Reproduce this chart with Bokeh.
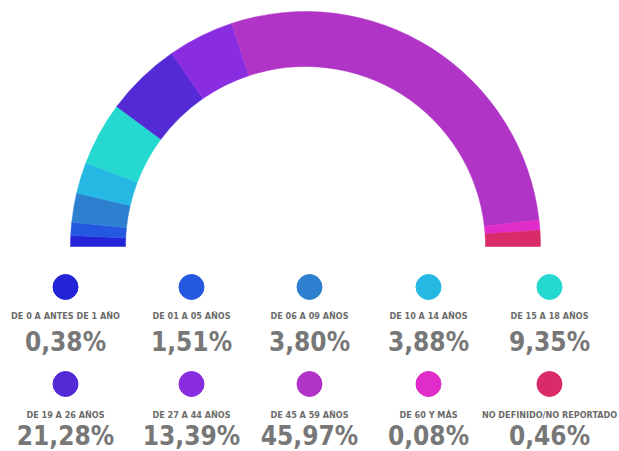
import math
from bokeh.plotting import figure
from bokeh.models import ColumnDataSource, Range1d
from bokeh.core.properties import value
from bokeh.embed import file_html
from bokeh.resources import INLINE

categories = ["DE 0 A ANTES DE 1 AÑO", "DE 01 A 05 AÑOS", "DE 06 A 09 AÑOS",
              "DE 10 A 14 AÑOS", "DE 15 A 18 AÑOS", "DE 19 A 26 AÑOS",
              "DE 27 A 44 AÑOS", "DE 45 A 59 AÑOS", "DE 60 Y MÁS",
              "NO DEFINIDO/NO REPORTADO"]
pct_labels = ["0,38%", "1,51%", "3,80%", "3,88%", "9,35%",
              "21,28%", "13,39%", "45,97%", "0,08%", "0,46%"]
# share of the half ring taken by each segment, as drawn (percent)
arc_share = [1.5, 1.8, 4.0, 4.3, 8.7, 10.4, 9.1, 56.6, 1.4, 2.2]
colors = ["#2323d8", "#2458e0", "#2d80cf", "#25b8e3", "#26d9d0",
          "#5429d6", "#8a2de0", "#b035c6", "#e02cc8", "#d92b6a"]

W, H = 619, 451
p = figure(width=W, height=H, output_backend="svg", toolbar_location=None,
           x_range=Range1d(0, W), y_range=Range1d(0, H),
           x_axis_type=None, y_axis_type=None, min_border=0)
p.grid.visible = False
p.outline_line_color = None

total = sum(arc_share)
starts, ends = [], []
cum = 0.0
for s in arc_share:
    a0 = math.pi - cum / total * math.pi
    cum += s
    a1 = math.pi - cum / total * math.pi
    starts.append(a1)
    ends.append(a0)

src = ColumnDataSource(dict(start=starts, end=ends, color=colors))
cx, cy = 305, H - 246
p.annular_wedge(x=cx, y=cy, inner_radius=180, outer_radius=235,
                start_angle="start", end_angle="end", direction="anticlock",
                color="color", line_color="color", line_width=0.5, source=src)

col_x = [65, 191, 309, 428, 549]
row_circle_y = [H - 286.5, H - 383.5]
row_label_y = [H - 315, H - 414]
row_pct_y = [H - 341, H - 435]

lx, ly, ty, py = [], [], [], []
for i in range(len(categories)):
    r, c = divmod(i, 5)
    lx.append(col_x[c])
    ly.append(row_circle_y[r])
    ty.append(row_label_y[r])
    py.append(row_pct_y[r])

FONT = value("DejaVu Sans Condensed")
leg = ColumnDataSource(dict(x=lx, cy=ly, ty=ty, py=py, color=colors,
                            cat=categories, pct=pct_labels))
p.scatter(x="x", y="cy", size=25, color="color", source=leg)
p.text(x="x", y="ty", text="cat", source=leg, text_align="center",
       text_baseline="middle", text_font=FONT,
       text_font_style="bold", text_font_size="9px", text_color="#6b6b6b")
p.text(x="x", y="py", text="pct", source=leg, text_align="center",
       text_baseline="middle", text_font=FONT,
       text_font_style="bold", text_font_size="26px", text_color="#777777")

open("out.html", "w").write(file_html(p, INLINE))
